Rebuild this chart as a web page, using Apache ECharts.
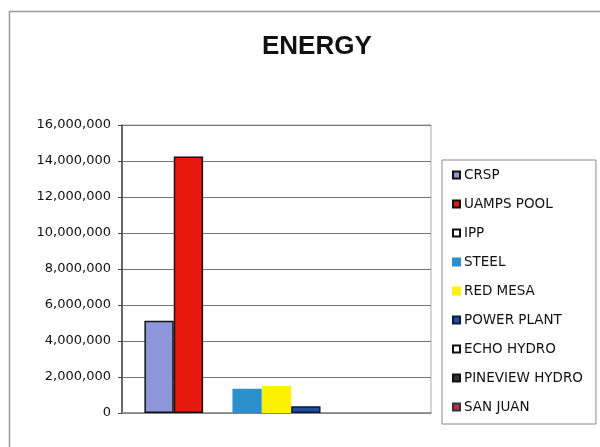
<!DOCTYPE html>
<html>
<head>
<meta charset="utf-8">
<script src="https://cdn.jsdelivr.net/npm/echarts@6/dist/echarts.min.js"></script>
<style>
  html, body { margin: 0; padding: 0; background: #fff; }
  #energy { width: 600px; height: 447px; }
</style>
</head>
<body>
<div id="energy"></div>
<script>
// one category, one series per source
const categories = ['']
const sources = ['CRSP', 'UAMPS POOL', 'IPP', 'STEEL', 'RED MESA', 'POWER PLANT', 'ECHO HYDRO', 'PINEVIEW HYDRO', 'SAN JUAN']
const energy = [5130000, 14250000, 0, 1350000, 1500000, 380000, 0, 0, 0]
const yTicks = [0, 2000000, 4000000, 6000000, 8000000, 10000000, 12000000, 14000000, 16000000]

const fills = ['#8c96d8', '#e8190f', '#ffffff', '#2b8fcb', '#fff200', '#1f4f9a', '#ffffff', '#333333', '#b03050']
const borders = ['#111', '#111', '#111', '#2b8fcb', '#fff200', '#0a1a40', '#111', '#111', '#333']

let myChart = echarts.init(document.getElementById('energy'))

let series = sources.map((name, i) => ({
  name: name,
  type: 'bar',
  // zero bars get no outline so nothing shows on the axis
  data: [{ value: energy[i], itemStyle: energy[i] === 0 ? { borderWidth: 0 } : {} }],
  barGap: '0%',
  barCategoryGap: '14.5%',
  itemStyle: {
    color: fills[i],
    borderColor: borders[i],
    borderWidth: 1.5
  },
  emphasis: { disabled: true }
}))

myChart.setOption({
  animation: false,
  backgroundColor: '#fff',
  textStyle: { fontFamily: 'DejaVu Sans, sans-serif' },
  graphic: [{
    type: 'rect',
    shape: { x: 9.5, y: 11.5, width: 640, height: 480 },
    style: { fill: 'none', stroke: '#9a9a9a', lineWidth: 1.5 },
    silent: true
  }],
  title: {
    text: 'ENERGY',
    left: 262,
    top: 34,
    padding: 0,
    textStyle: {
      color: '#111',
      fontWeight: 'bold',
      fontSize: 26,
      fontFamily: 'Liberation Sans, Arial, sans-serif'
    }
  },
  legend: {
    orient: 'vertical',
    left: 442,
    top: 160,
    padding: [8, 13, 10, 10],
    itemGap: 15,
    itemWidth: 7,
    itemHeight: 7,
    icon: 'rect',
    selectedMode: false,
    borderColor: '#888',
    borderWidth: 1,
    textStyle: {
      color: '#111',
      fontSize: 13.5,
      lineHeight: 14,
      padding: [0, 0, 0, -1]
    }
  },
  grid: {
    left: 122,
    right: 169,
    top: 125,
    bottom: 34,
    show: true,
    borderColor: '#aaa',
    borderWidth: 1
  },
  xAxis: {
    type: 'category',
    data: categories,
    axisLine: { lineStyle: { color: '#888', width: 1.5 } },
    axisTick: { show: false },
    axisLabel: { show: false }
  },
  yAxis: {
    type: 'value',
    min: yTicks[0],
    max: yTicks[yTicks.length - 1],
    interval: 2000000,
    axisLine: { show: true, lineStyle: { color: '#444', width: 1.5 } },
    axisTick: { show: true, inside: false, length: 4, lineStyle: { color: '#444' } },
    axisLabel: {
      margin: 11,
      color: '#111',
      fontSize: 13,
      formatter: v => v.toLocaleString('en-US')
    },
    splitLine: { lineStyle: { color: '#777', width: 1.2 } }
  },
  series: series
})
</script>
</body>
</html>
